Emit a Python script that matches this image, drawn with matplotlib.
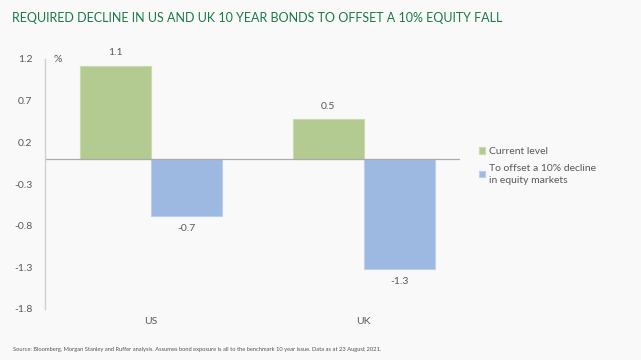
import matplotlib.pyplot as plt
import numpy as np

categories = ["US", "UK"]
current_level = [1.12, 0.48]
offset_decline = [-0.68, -1.32]
current_labels = ["1.1", "0.5"]
offset_labels = ["-0.7", "-1.3"]
yticks = [1.2, 0.7, 0.2, -0.3, -0.8, -1.3, -1.8]

bg = "#f9f9f9"
green = "#b3cb90"
blue = "#9db9e2"
txt = "#595959"

plt.rcParams['font.family'] = ['Lato', 'DejaVu Sans']

fig = plt.figure(figsize=(6.41, 3.6), dpi=100, facecolor=bg)
ax = fig.add_axes([45/641, 1 - 309/360, 415/641, 250/360], facecolor=bg)

x = np.arange(len(categories))
w = 0.334
b1 = ax.bar(x - w/2, current_level, w, color=green, edgecolor="#c9dcb0", linewidth=0.8,
            label="Current level")
b2 = ax.bar(x + w/2, offset_decline, w, color=blue, edgecolor="#bccfee", linewidth=0.8,
            label="To offset a 10% decline\nin equity markets")

for xi, v, lab in zip(x - w/2, current_level, current_labels):
    ax.text(xi, v + 0.1, lab, ha="center", va="bottom", fontsize=7.5, color=txt)
for xi, v, lab in zip(x + w/2, offset_decline, offset_labels):
    ax.text(xi, v - 0.1, lab, ha="center", va="top", fontsize=7.5, color=txt)

ax.axhline(0, color="#aaaaaa", linewidth=0.9)
ax.set_xlim(-0.498, 1.453)
ax.set_ylim(-1.8, 1.2)
ax.set_yticks(yticks)
ax.set_yticklabels([f"{t:.1f}" for t in yticks])
ax.set_xticks(x)
ax.set_xticklabels(categories)
ax.tick_params(axis="y", length=0, pad=9, labelsize=7.5, labelcolor=txt)
ax.tick_params(axis="x", length=0, pad=6, labelsize=7.5, labelcolor=txt)
for s in ["top", "right", "bottom"]:
    ax.spines[s].set_visible(False)
ax.spines["left"].set_color("#d0d0d0")
ax.spines["left"].set_linewidth(1.0)

ax.text(0.021, 1.2, "%", transform=ax.get_yaxis_transform(), ha="left", va="center",
        fontsize=7.5, color=txt)

leg = fig.legend(handles=[b1, b2], loc="upper left", bbox_to_anchor=(0.733, 0.617),
                 frameon=False, fontsize=7.5, handlelength=0.55, handleheight=0.55,
                 handletextpad=0.4, labelspacing=0.7, labelcolor=txt)
for t in leg.get_texts():
    t.set_linespacing(1.45)

narrow = ['Liberation Sans Narrow', 'Lato', 'DejaVu Sans']
title = fig.text(12/641, 1 - 18/360,
                 "REQUIRED DECLINE IN US AND UK 10 YEAR BONDS TO OFFSET A 10% EQUITY FALL",
                 ha="left", va="center", fontsize=12, color="#1a7a45", family=narrow)
source = fig.text(13/641, 1 - 349/360,
                  "Source: Bloomberg, Morgan Stanley and Ruffer analysis. Assumes bond exposure is all to the benchmark 10 year issue. Data as at 23 August 2021.",
                  ha="left", va="center", fontsize=4.8, color="#555555", family=narrow)

# shrink the two long lines to the widths seen in the reference
r = fig.canvas.get_renderer()
for t, target in [(title, 490), (source, 372)]:
    wpx = t.get_window_extent(renderer=r).width
    t.set_fontsize(t.get_fontsize() * target / wpx)

fig.savefig("out.png", dpi=100, facecolor=bg)
